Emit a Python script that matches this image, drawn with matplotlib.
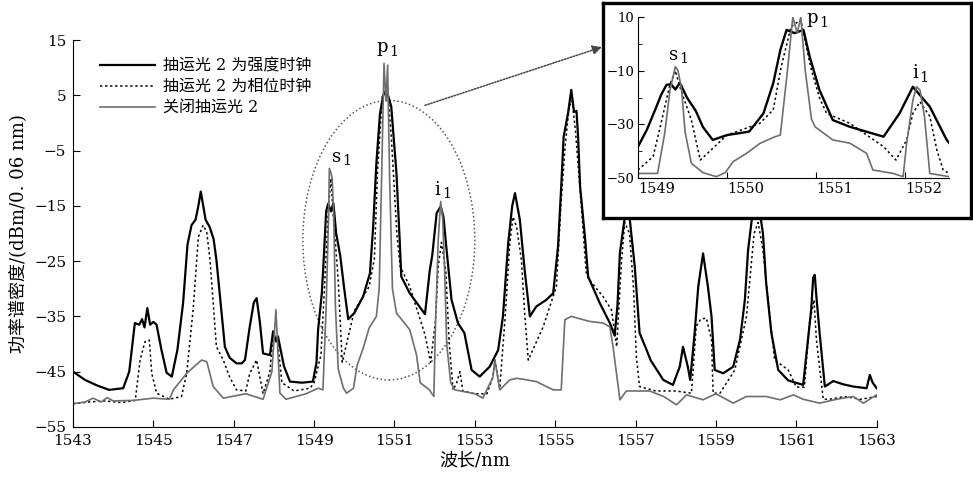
import numpy as np
import matplotlib
matplotlib.use('Agg')
import matplotlib.pyplot as plt
from matplotlib.patches import Ellipse

plt.rcParams['font.family'] = ['DejaVu Serif', 'Noto Sans CJK SC']
plt.rcParams['axes.unicode_minus'] = True

# ---- main spectrum: pump 2 as intensity clock (solid black)
int_wl = [1543.0, 1543.3, 1543.6, 1543.9, 1544.25, 1544.4, 1544.54, 1544.65, 1544.72, 1544.78,
          1544.85, 1544.92, 1545.0, 1545.08, 1545.2, 1545.33, 1545.46, 1545.6, 1545.74, 1545.85,
          1545.95, 1546.05, 1546.12, 1546.18, 1546.24, 1546.3, 1546.4, 1546.5, 1546.57, 1546.68,
          1546.78, 1546.9, 1547.07, 1547.2, 1547.28, 1547.4, 1547.5, 1547.57, 1547.65, 1547.73,
          1547.9, 1547.98, 1548.05, 1548.1, 1548.25, 1548.4, 1548.7, 1548.97, 1549.06, 1549.1,
          1549.19, 1549.23, 1549.3, 1549.35, 1549.42, 1549.48, 1549.55, 1549.65, 1549.75, 1549.85,
          1550.0, 1550.22, 1550.39, 1550.47, 1550.55, 1550.64, 1550.72, 1550.8, 1550.86, 1550.92,
          1551.05, 1551.13, 1551.17, 1551.38, 1551.6, 1551.76, 1551.88, 1551.94, 1552.05, 1552.15, 1552.22,
          1552.29, 1552.42, 1552.58, 1552.74, 1552.92, 1553.12, 1553.37, 1553.58, 1553.7, 1553.83,
          1553.93, 1554.0, 1554.12, 1554.24, 1554.37, 1554.53, 1554.78, 1554.95, 1555.07, 1555.15,
          1555.21, 1555.32, 1555.4, 1555.47, 1555.53, 1555.57, 1555.62, 1555.74, 1555.82, 1556.11,
          1556.36, 1556.48, 1556.55, 1556.61, 1556.77, 1556.85, 1556.98, 1557.1, 1557.27, 1557.38,
          1557.69, 1557.93, 1558.1, 1558.18, 1558.3, 1558.36, 1558.47, 1558.56, 1558.68, 1558.8,
          1558.89, 1558.97, 1559.18, 1559.43, 1559.6, 1559.72, 1559.8, 1559.9, 1560.0, 1560.1,
          1560.17, 1560.25, 1560.38, 1560.55, 1560.8, 1561.17, 1561.29, 1561.37, 1561.42, 1561.46,
          1561.5, 1561.58, 1561.71, 1561.92, 1562.17, 1562.42, 1562.75, 1562.83, 1562.9, 1563.0]
int_db = [-45, -46.5, -47.5, -48.3, -48, -45, -36.2, -36.5, -35.5, -37,
          -33.5, -36.5, -36, -36.5, -41, -45.2, -45.9, -41, -32.6, -22,
          -18.5, -17.5, -15, -12.4, -15, -17.5, -18.8, -21, -24.8, -33,
          -40.5, -42.5, -43.5, -43.5, -42.9, -36.8, -32.5, -31.7, -36, -41.7,
          -42, -37.7, -39.5, -38.6, -44, -46.8, -47, -46.8, -43.4, -37.4,
          -31, -26, -16, -14.6, -16, -14.5, -20, -24, -30, -35.5,
          -34.4, -31.4, -27.2, -18.8, -7.3, 1.7, 5, 6, 4.5, 3,
          -9.1, -21.2, -27.8, -30.8, -33, -34.6, -26.6, -24, -16.3, -15.1, -17,
          -22.4, -32, -36.2, -38, -44.7, -45.9, -44.1, -41.1, -35, -21.8,
          -15, -12.7, -17.5, -26.6, -35, -33.2, -32, -30.8, -22.4, -11.5,
          -2.5, 1.8, 6, 2, 2.2, -2.5, -11.5, -20.6, -27.8, -32.6,
          -36.2, -38.5, -33, -23.5, -15, -17, -26, -38, -41, -43,
          -46.5, -47.4, -44.1, -40.5, -44.1, -46.5, -38, -29.6, -23.6, -29.6,
          -35, -44.7, -45.3, -44.1, -39.2, -32, -23, -17, -15.5, -16.5,
          -20, -29, -38, -44.7, -46.6, -47.4, -39.2, -33.8, -28, -27.5,
          -31.4, -38, -47.7, -46.7, -47.3, -47.7, -48, -45.6, -47, -48]

# ---- pump 2 as phase clock (dotted)
ph_wl = [1543.0, 1543.4, 1543.8, 1544.2, 1544.55, 1544.67, 1544.79, 1544.9, 1544.96, 1545.08,
         1545.4, 1545.7, 1545.83, 1545.99, 1546.12, 1546.24, 1546.33, 1546.41, 1546.57, 1546.74,
         1546.9, 1547.07, 1547.3, 1547.4, 1547.57, 1547.73, 1547.9, 1547.98, 1548.1, 1548.2,
         1548.5, 1548.9, 1549.0, 1549.17, 1549.25, 1549.36, 1549.42, 1549.47, 1549.6, 1549.7,
         1550.0, 1550.37, 1550.5, 1550.58, 1550.7, 1550.83, 1550.92, 1550.98, 1551.06, 1551.14,
         1551.38, 1551.76, 1551.9, 1552.02, 1552.09, 1552.17, 1552.28, 1552.36, 1552.46, 1552.55,
         1552.63, 1552.7, 1553.0, 1553.3, 1553.45, 1553.5, 1553.62, 1553.75, 1553.87, 1553.95,
         1554.04, 1554.16, 1554.24, 1554.33, 1554.7, 1555.03, 1555.15, 1555.25, 1555.35, 1555.42,
         1555.5, 1555.64, 1555.77, 1555.82, 1556.19, 1556.4, 1556.53, 1556.65, 1556.73, 1556.85,
         1556.95, 1557.02, 1557.1, 1557.5, 1558.0, 1558.39, 1558.51, 1558.62, 1558.76, 1558.89,
         1558.93, 1559.1, 1559.47, 1559.76, 1559.95, 1560.05, 1560.17, 1560.34, 1560.46, 1560.8,
         1561.0, 1561.2, 1561.33, 1561.44, 1561.5, 1561.67, 1561.83, 1562.2, 1562.6, 1563.0]
ph_db = [-50.8, -50.5, -50.3, -50.6, -50.2, -42.9, -39.6, -39.3, -45.3, -48.9,
         -50, -49.5, -45.3, -33.8, -20.6, -18.5, -19.8, -24.8, -40.5, -42.9,
         -46, -48.3, -48.5, -45.3, -42.9, -49, -45, -38.6, -40, -47,
         -48.5, -48, -47, -42, -31, -15, -10, -16, -28.4, -43.3,
         -34, -29.6, -24.6, -8.5, 5, 6, -2.3, -9.8, -20.1, -25.9,
         -29.6, -38.3, -43.3, -35.8, -25.9, -21.6, -27, -39.6, -48.3, -47,
         -45, -48.5, -49, -49, -46, -42.9, -48, -35.6, -21.8, -17,
         -18.8, -24.8, -34.4, -42.9, -36.9, -29.6, -14, -4, 3, 4,
         -1, -14, -27, -28.1, -31.4, -33.8, -40.5, -25, -18, -20,
         -30, -42.3, -47.7, -48.5, -48.5, -48.9, -36.8, -35.5, -35.3, -39.2,
         -48.9, -48.9, -44.7, -35, -20, -18, -23, -35, -42.9, -44.7,
         -47.8, -47.8, -36.2, -32, -39.2, -50, -50, -49.5, -50, -49.5]

# ---- pump 2 off (gray)
off_wl = [1543.0, 1543.3, 1543.5, 1543.7, 1543.85, 1544.0, 1544.5, 1545.0, 1545.4, 1545.5,
          1545.83, 1546.2, 1546.33, 1546.49, 1546.74, 1547.3, 1547.73, 1547.95, 1548.05, 1548.15,
          1548.3, 1548.8, 1549.1, 1549.22, 1549.3, 1549.36, 1549.38, 1549.42, 1549.45, 1549.49,
          1549.53, 1549.6, 1549.73, 1549.81, 1549.98, 1550.07, 1550.22, 1550.37, 1550.55, 1550.62,
          1550.68, 1550.74, 1550.79, 1550.83, 1550.88, 1550.95, 1551.05, 1551.38, 1551.55, 1551.64,
          1551.87, 1551.98, 1552.02, 1552.09, 1552.15, 1552.2, 1552.25, 1552.3, 1552.4, 1552.5,
          1553.0, 1553.2, 1553.45, 1553.5, 1553.62, 1553.87, 1554.04, 1554.3, 1554.53, 1554.95,
          1555.15, 1555.24, 1555.4, 1555.85, 1556.19, 1556.36, 1556.44, 1556.61, 1556.77, 1557.35,
          1557.7, 1558.02, 1558.27, 1558.68, 1559.0, 1559.43, 1559.76, 1560.25, 1560.6, 1560.93,
          1561.17, 1561.58, 1562.0, 1562.42, 1562.67, 1563.0]
off_db = [-50.8, -50.5, -49.8, -50.5, -49.7, -50.3, -50.2, -49.8, -50, -48.3,
          -45.3, -42.9, -43.2, -47.7, -49.8, -49, -50, -45, -33.8, -48.9,
          -50, -49, -48, -48.3, -33.4, -17.2, -8.2, -9, -10, -17,
          -33, -44.5, -48, -48.9, -48, -43.9, -40.8, -37.1, -35, -30,
          -10, 10.8, 4, 10.5, -10, -30, -34.4, -37.4, -42, -47,
          -48.3, -49.5, -37, -21, -14.2, -17.2, -27, -40, -47, -48.3,
          -49, -49.8, -46, -42.9, -48.3, -46.5, -46.2, -46.5, -46.8, -48.3,
          -48.3, -35.6, -35, -35.9, -36.2, -36.9, -40.5, -50.1, -48.5, -48.5,
          -49.5, -51, -49.2, -50.1, -49, -50.7, -49.5, -49.5, -50.1, -49.2,
          -50, -50.7, -50, -49.5, -50.7, -49.2]

# ---- inset (1549 - 1552.5 nm)
ins_int_wl = [1549.0, 1549.1, 1549.2, 1549.26, 1549.32, 1549.37, 1549.42, 1549.47, 1549.55, 1549.65,
              1549.73, 1549.84, 1550.0, 1550.25, 1550.41, 1550.52, 1550.6, 1550.67, 1550.76, 1550.86,
              1550.93, 1551.04, 1551.19, 1551.38, 1551.76, 1551.94, 1552.09, 1552.28, 1552.47, 1552.5]
ins_int_db = [-38.3, -32, -24, -19, -15.3, -15, -17, -14.5, -20, -25,
              -31, -35.8, -34, -32.7, -25.9, -14.7, -2.3, 5.2, 4, 5.2,
              -4.8, -17.2, -28.4, -30.9, -34.6, -25.9, -16, -23.4, -35.8, -37]
ins_ph_wl = [1549.0, 1549.17, 1549.25, 1549.36, 1549.42, 1549.47, 1549.6, 1549.7, 1550.0, 1550.37,
             1550.52, 1550.61, 1550.72, 1550.83, 1550.9, 1550.95, 1551.04, 1551.12, 1551.38, 1551.76,
             1551.9, 1552.02, 1552.09, 1552.17, 1552.28, 1552.36, 1552.43, 1552.5]
ins_ph_db = [-47, -42, -30.9, -15, -10, -16, -28.4, -43.3, -34, -29.6,
             -24.6, -8.5, 6.4, 9, -2.3, -9.8, -20.1, -25.9, -29.6, -38.3,
             -43.3, -35.8, -25.9, -21.6, -27, -39.6, -47, -48.3]
ins_off_wl = [1549.0, 1549.22, 1549.3, 1549.36, 1549.42, 1549.45, 1549.49, 1549.53, 1549.6, 1549.73,
              1549.88, 1549.98, 1550.07, 1550.22, 1550.37, 1550.54, 1550.6, 1550.68, 1550.74, 1550.79,
              1550.83, 1550.88, 1550.95, 1550.99, 1551.19, 1551.38, 1551.57, 1551.64, 1551.87, 1551.98,
              1552.02, 1552.09, 1552.13, 1552.17, 1552.22, 1552.28, 1552.5]
ins_off_db = [-48.3, -48.3, -33.4, -17.2, -8.5, -10, -17, -33, -44.5, -48,
              -49.5, -48, -43.9, -40.8, -37.1, -34.6, -34, -10, 10, 4,
              10, -10, -28, -30.9, -35.8, -37, -40.8, -47, -48.3, -49.5,
              -37, -21, -16, -17.2, -27, -48.3, -49.5]

labels = ['抽运光 2 为强度时钟', '抽运光 2 为相位时钟', '关闭抽运光 2']
dot_style = (0, (1.5, 1.8))
gray = '#6e6e6e'


def sub_label(a, x, y, base, sub):
    # letter with a lowered index, like p1 in the paper figure
    a.annotate(base, (x, y), ha='right', va='baseline', fontsize=13)
    a.annotate(sub, (x, y), xytext=(1, -2.5), textcoords='offset points',
               ha='left', va='baseline', fontsize=10.5)


fig = plt.figure(figsize=(9.73, 4.84), dpi=100)
ax = fig.add_axes([0.075, 0.118, 0.826, 0.799])

ax.plot(int_wl, int_db, color='black', lw=1.6, label=labels[0])
ax.plot(ph_wl, ph_db, color='black', lw=1.1, ls=dot_style, label=labels[1])
ax.plot(off_wl, off_db, color=gray, lw=1.2, label=labels[2])

ax.set_xlim(1543, 1563)
ax.set_ylim(-55, 15)
ax.set_xticks(np.arange(1543, 1564, 2))
ax.set_yticks(np.arange(-55, 16, 10))
ax.tick_params(direction='in', length=5, labelsize=11)
ax.tick_params(axis='x', pad=5)
ax.tick_params(axis='y', pad=5)
for s in ['top', 'right']:
    ax.spines[s].set_visible(False)
ax.set_xlabel('波长/nm', fontsize=13, labelpad=3)
ax.set_ylabel('功率谱密度/(dBm/0. 06 nm)', fontsize=13, labelpad=4)

ax.legend(loc='upper left', bbox_to_anchor=(0.02, 0.985), frameon=False, fontsize=11.5,
          handlelength=3.4, labelspacing=0.25, handletextpad=0.5, borderpad=0.2)

sub_label(ax, 1550.84, 12.8, 'p', '1')
sub_label(ax, 1549.67, -7.0, 's', '1')
sub_label(ax, 1552.15, -13.0, 'i', '1')

ax.add_patch(Ellipse((1550.86, -21.2), 4.28, 50.6, fill=False, ls=(0, (1, 1.6)),
                     lw=1.1, color='#555555'))

# arrow from ellipse to inset box
ax.annotate('', xy=(602 / 973, 1 - 47 / 484), xycoords='figure fraction',
            xytext=(1551.76, 3.2), textcoords='data',
            arrowprops=dict(arrowstyle='-|>', ls=(0, (1, 1)), lw=1.1, color='#444444',
                            mutation_scale=14, shrinkA=0, shrinkB=0))

# inset frame
box = fig.add_axes([0.6197, 0.5496, 0.378, 0.444])
box.set_xticks([])
box.set_yticks([])
for s in box.spines.values():
    s.set_linewidth(2.4)
box.set_zorder(5)

ins = fig.add_axes([0.6557, 0.6322, 0.320, 0.3326])
ins.set_zorder(6)
ins.patch.set_alpha(0)
ins.plot(ins_int_wl, ins_int_db, color='black', lw=1.7)
ins.plot(ins_ph_wl, ins_ph_db, color='black', lw=1.1, ls=dot_style)
ins.plot(ins_off_wl, ins_off_db, color=gray, lw=1.2)
ins.set_xlim(1549, 1552.5)
ins.set_ylim(-50, 10)
ins.set_xticks([1549, 1550, 1551, 1552])
ins.set_yticks([10, -10, -30, -50])
ins.set_yticks([0, -20, -40], minor=True)
ins.tick_params(direction='in', length=4, labelsize=10.5)
ins.tick_params(axis='y', labelsize=9.5, pad=2.5)
ins.tick_params(axis='x', pad=3)
ins.tick_params(which='minor', direction='in', length=3)
for lab in ins.get_xticklabels():
    lab.set_horizontalalignment('left')
for s in ['top', 'right']:
    ins.spines[s].set_visible(False)
sub_label(ins, 1549.45, -6.0, 's', '1')
sub_label(ins, 1551.02, 7.6, 'p', '1')
sub_label(ins, 1552.15, -12.8, 'i', '1')

fig.savefig('out.png', dpi=100)
